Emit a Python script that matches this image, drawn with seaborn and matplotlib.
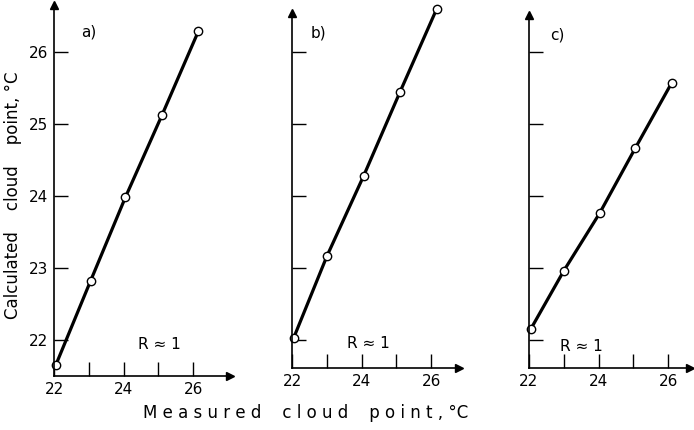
import matplotlib
matplotlib.use("Agg")
from matplotlib import pyplot as plt
import seaborn as sns

sns.set_style("ticks")
plt.rcParams['font.family'] = ['DejaVu Sans']
plt.rcParams['text.color'] = 'black'
plt.rcParams['xtick.color'] = 'black'
plt.rcParams['ytick.color'] = 'black'
plt.rcParams['axes.edgecolor'] = 'black'

# measured vs calculated cloud point, three panels
measured_a = [22.05, 23.05, 24.05, 25.1, 26.15]
calculated_a = [21.65, 22.82, 23.98, 25.12, 26.29]

measured_b = [22.05, 23.0, 24.06, 25.1, 26.16]
calculated_b = [22.03, 23.16, 24.28, 25.44, 26.6]

measured_c = [22.05, 23.0, 24.03, 25.05, 26.1]
calculated_c = [22.15, 22.96, 23.76, 24.66, 25.57]

panel_labels = ["a)", "b)", "c)"]
x_ticks = [22, 23, 24, 25, 26]
x_ticklabels = ["22", "", "24", "", "26"]
y_ticks = [22, 23, 24, 25, 26]

W, H = 694, 430
PX_X = 34.8   # px per degree, x
PX_Y = 72.0   # px per degree, y

# layout in pixels: left, bottom, top, x max, y min, label pos, R pos
layout = [
    dict(left=54, bottom=376, top=5, xmax=27.05, ymin=21.5, lab=(0.195, 0.927), r=(0.598, 0.084)),
    dict(left=292, bottom=368, top=13, xmax=26.8, ymin=21.61, lab=(0.156, 0.944), r=(0.455, 0.07)),
    dict(left=529, bottom=368, top=15, xmax=26.63, ymin=21.61, lab=(0.174, 0.943), r=(0.323, 0.06)),
]
series = [(measured_a, calculated_a), (measured_b, calculated_b), (measured_c, calculated_c)]

fig = plt.figure(figsize=(W / 100, H / 100), dpi=100)

for i, (lay, (mx, cy)) in enumerate(zip(layout, series)):
    width = (lay["xmax"] - 22) * PX_X
    height = lay["bottom"] - lay["top"]
    ax = fig.add_axes([lay["left"] / W, 1 - lay["bottom"] / H, width / W, height / H])

    sns.lineplot(
        x=mx, y=cy, ax=ax, estimator=None, color="k", lw=2.3,
        marker="o", markersize=6, markerfacecolor="white",
        markeredgecolor="k", markeredgewidth=1, clip_on=False,
    )

    ax.set_xlim(22, lay["xmax"])
    ax.set_ylim(lay["ymin"], lay["ymin"] + height / PX_Y)
    ax.set_xticks(x_ticks)
    ax.set_xticklabels(x_ticklabels)
    ax.set_yticks(y_ticks)
    if i == 0:
        ax.set_yticklabels([str(t) for t in y_ticks])
    else:
        ax.set_yticklabels([])
    ax.tick_params(direction="in", length=10, width=1, labelsize=11, pad=4)

    sns.despine(ax=ax)
    for s in ("left", "bottom"):
        ax.spines[s].set_linewidth(1.2)
    ax.plot(1, 0, ">k", transform=ax.transAxes, clip_on=False, markersize=6)
    ax.plot(0, 1, "^k", transform=ax.transAxes, clip_on=False, markersize=6)

    ax.text(*lay["lab"], panel_labels[i], transform=ax.transAxes,
            ha="center", va="center", fontsize=11)
    ax.text(*lay["r"], "R \u2248 1", transform=ax.transAxes,
            ha="center", va="center", fontsize=11)

fig.text(0.019, 1 - 195 / H, "Calculated    cloud    point, \u00b0C", rotation=90,
         ha="center", va="center", fontsize=12)
fig.text(306 / W, 1 - 413 / H, "M e a s u r e d    c l o u d    p o i n t , \u00b0C",
         ha="center", va="center", fontsize=12)

fig.savefig("out.png", dpi=100)
plt.close("all")
